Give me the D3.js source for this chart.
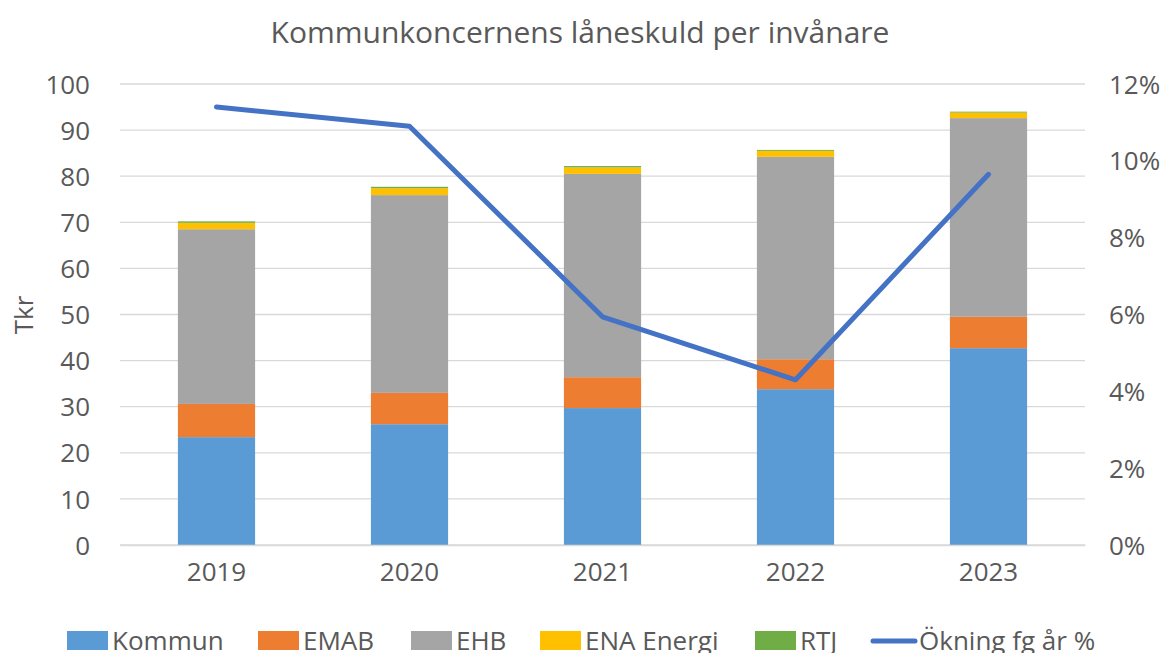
<!DOCTYPE html>
<html>
<head>
<meta charset="utf-8">
<script src="https://cdn.jsdelivr.net/npm/d3@7"></script>
<style>
body { margin: 0; background: #fff; }
text { font-family: "Open Sans", sans-serif; fill: #595959; }
</style>
</head>
<body>
<script>
var width = 1173, height = 653;

var years = ['2019', '2020', '2021', '2022', '2023'];
var kommun = [23.4, 26.2, 29.7, 33.8, 42.7];
var emab = [7.2, 6.8, 6.7, 6.5, 6.8];
var ehb = [37.9, 42.9, 44.1, 43.9, 43.1];
var enaEnergi = [1.4, 1.5, 1.4, 1.3, 1.2];
var rtj = [0.3, 0.3, 0.3, 0.2, 0.2];
var okning = [11.4, 10.9, 5.94, 4.3, 9.65];

var seriesNames = ['Kommun', 'EMAB', 'EHB', 'ENA Energi', 'RTJ'];
var colors = ['#5B9BD5', '#ED7D31', '#A5A5A5', '#FFC000', '#70AD47'];
var lineColor = '#4472C4';

var rows = years.map(function(y, i) {
  return { year: y, Kommun: kommun[i], EMAB: emab[i], EHB: ehb[i], 'ENA Energi': enaEnergi[i], RTJ: rtj[i] };
});

var plotLeft = 120, plotRight = 1085, plotTop = 84, plotBottom = 545;

var svg = d3.select('body').append('svg')
    .attr('width', width)
    .attr('height', height);

var x = d3.scaleBand().domain(years).range([plotLeft, plotRight]).paddingInner(0.6).paddingOuter(0.3);
var y = d3.scaleLinear().domain([0, 100]).range([plotBottom, plotTop]);
var y2 = d3.scaleLinear().domain([0, 12]).range([plotBottom, plotTop]);

// grid
svg.append('g')
  .selectAll('line')
  .data(y.ticks(10))
  .enter().append('line')
    .attr('x1', plotLeft).attr('x2', plotRight)
    .attr('y1', function(d) { return y(d); })
    .attr('y2', function(d) { return y(d); })
    .attr('stroke', '#d9d9d9')
    .attr('stroke-width', 1.3);

// stacked bars
var stack = d3.stack().keys(seriesNames)(rows);
svg.append('g')
  .selectAll('g')
  .data(stack)
  .enter().append('g')
    .attr('fill', function(d, i) { return colors[i]; })
  .selectAll('rect')
  .data(function(d) { return d; })
  .enter().append('rect')
    .attr('x', function(d) { return x(d.data.year); })
    .attr('width', x.bandwidth())
    .attr('y', function(d) { return y(d[1]); })
    .attr('height', function(d) { return y(d[0]) - y(d[1]); });

// line
var line = d3.line()
  .x(function(d, i) { return x(years[i]) + x.bandwidth() / 2; })
  .y(function(d) { return y2(d); });

svg.append('path')
  .datum(okning)
  .attr('d', line)
  .attr('fill', 'none')
  .attr('stroke', lineColor)
  .attr('stroke-width', 5)
  .attr('stroke-linecap', 'round')
  .attr('stroke-linejoin', 'round');

// axes
var yAxis = svg.append('g')
  .attr('transform', 'translate(' + (plotLeft - 27) + ',0)')
  .call(d3.axisLeft(y).ticks(10).tickSize(0));
yAxis.select('.domain').remove();
yAxis.selectAll('text').style('font-size', '26px').attr('dy', '0.35em');

var y2Axis = svg.append('g')
  .attr('transform', 'translate(' + (plotRight + 21) + ',0)')
  .call(d3.axisRight(y2).ticks(6).tickSize(0).tickFormat(function(d) { return d + '%'; }));
y2Axis.select('.domain').remove();
y2Axis.selectAll('text').style('font-size', '26px').attr('dy', '0.35em');

var xAxis = svg.append('g')
  .attr('transform', 'translate(0,' + plotBottom + ')')
  .call(d3.axisBottom(x).tickSize(0).tickPadding(27));
xAxis.select('.domain').attr('stroke', '#d9d9d9').attr('stroke-width', 1.3);
xAxis.selectAll('text').style('font-size', '26px').attr('dy', '0.35em');

// title
svg.append('text')
  .attr('x', 580).attr('y', 43)
  .attr('text-anchor', 'middle')
  .style('font-size', '30px')
  .text('Kommunkoncernens låneskuld per invånare');

svg.append('text')
  .attr('transform', 'translate(33,315) rotate(-90)')
  .attr('text-anchor', 'middle')
  .style('font-size', '26px')
  .text('Tkr');

// legend
var legendItems = [
  { name: 'Kommun', color: colors[0], x: 67, type: 'rect' },
  { name: 'EMAB', color: colors[1], x: 258, type: 'rect' },
  { name: 'EHB', color: colors[2], x: 411, type: 'rect' },
  { name: 'ENA Energi', color: colors[3], x: 540, type: 'rect' },
  { name: 'RTJ', color: colors[4], x: 755, type: 'rect' },
  { name: 'Ökning fg år %', color: lineColor, x: 871, type: 'line' }
];
var legend = svg.append('g');
var li = legend.selectAll('g').data(legendItems).enter().append('g')
  .attr('transform', function(d) { return 'translate(' + d.x + ',641)'; });
li.filter(function(d) { return d.type == 'rect'; }).append('rect')
  .attr('x', 0).attr('y', -10).attr('width', 41).attr('height', 19)
  .attr('fill', function(d) { return d.color; });
li.filter(function(d) { return d.type == 'line'; }).append('line')
  .attr('x1', 2).attr('x2', 44).attr('y1', 0).attr('y2', 0)
  .attr('stroke', function(d) { return d.color; })
  .attr('stroke-width', 5).attr('stroke-linecap', 'round');
li.append('text')
  .attr('x', function(d) { return d.type == 'line' ? 48 : 45; })
  .attr('y', 0).attr('dy', '0.35em')
  .style('font-size', '26px')
  .text(function(d) { return d.name; });
</script>
</body>
</html>
